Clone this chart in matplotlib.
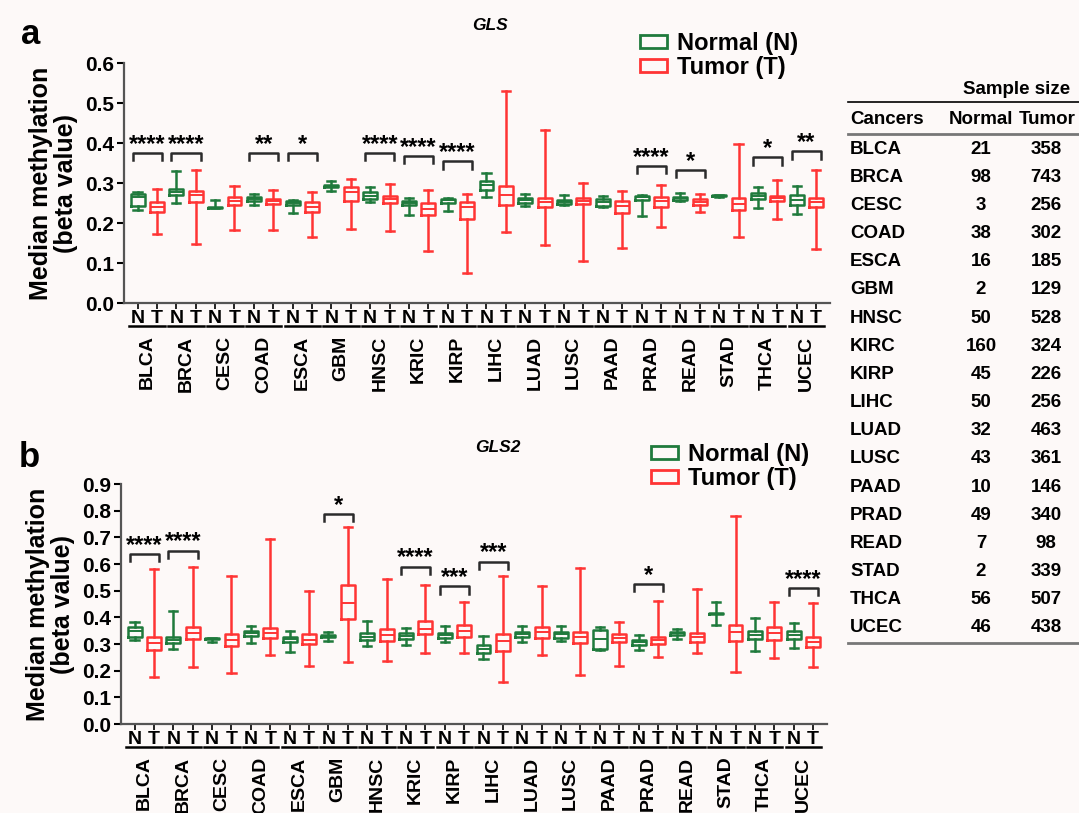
import matplotlib
matplotlib.use("Agg")
import matplotlib.pyplot as plt
import matplotlib.transforms as mtransforms
from matplotlib.patches import Patch

plt.rcParams['font.family'] = ['Liberation Sans', 'DejaVu Sans']
plt.rcParams['font.weight'] = 'bold'

# ----------------------------
# DATA
# ----------------------------
cancers = ["BLCA", "BRCA", "CESC", "COAD", "ESCA", "GBM", "HNSC", "KRIC", "KIRP",
           "LIHC", "LUAD", "LUSC", "PAAD", "PRAD", "READ", "STAD", "THCA", "UCEC"]
table_cancers = ["BLCA", "BRCA", "CESC", "COAD", "ESCA", "GBM", "HNSC", "KIRC", "KIRP",
                 "LIHC", "LUAD", "LUSC", "PAAD", "PRAD", "READ", "STAD", "THCA", "UCEC"]
n_normal = [21, 98, 3, 38, 16, 2, 50, 160, 45, 50, 32, 43, 10, 49, 7, 2, 56, 46]
n_tumor = [358, 743, 256, 302, 185, 129, 528, 324, 226, 256, 463, 361, 146, 340, 98, 339, 507, 438]

# GLS (panel a) normal
gls_n_lo = [.233, .25, .2375, .245, .224, .281, .2525, .221, .231, .265, .242, .244, .239, .217, .256, .266, .238, .223]
gls_n_q1 = [.243, .271, .2375, .255, .244, .29, .259, .244, .25, .283, .25, .2475, .243, .2575, .258, .267, .26, .244]
gls_n_med = [.264, .2775, .2385, .261, .251, .293, .267, .25, .257, .294, .257, .253, .2525, .264, .2625, .268, .2675, .257]
gls_n_q3 = [.272, .285, .24, .266, .255, .296, .277, .255, .26, .304, .2625, .258, .26, .267, .266, .269, .275, .269]
gls_n_hi = [.2775, .329, .258, .273, .258, .304, .291, .263, .2625, .324, .272, .27, .267, .271, .274, .27, .289, .292]
# GLS tumor
gls_t_lo = [.1725, .1475, .182, .183, .165, .185, .181, .129, .075, .177, .144, .104, .137, .191, .228, .164, .21, .136]
gls_t_q1 = [.2275, .253, .245, .247, .2267, .254, .251, .22, .21, .244, .239, .247, .225, .24, .244, .232, .255, .241]
gls_t_med = [.24, .269, .255, .255, .24, .2775, .26, .236, .24, .269, .2525, .256, .242, .255, .2525, .2475, .2625, .2525]
gls_t_q3 = [.2525, .28, .265, .261, .2525, .289, .268, .25, .2525, .292, .262, .262, .254, .264, .26, .262, .268, .262]
gls_t_hi = [.286, .3325, .2917, .283, .278, .31, .2975, .283, .2725, .529, .433, .299, .281, .294, .273, .398, .307, .333]

# GLS2 (panel b) normal
gls2_n_lo = [.315, .281, .306, .305, .27, .311, .291, .295, .307, .243, .307, .31, .278, .278, .318, .372, .273, .286]
gls2_n_q1 = [.326, .303, .318, .33, .306, .327, .316, .318, .323, .266, .326, .323, .28, .297, .335, .413, .318, .32]
gls2_n_med = [.347, .316, .319, .341, .318, .33, .328, .331, .333, .281, .336, .337, .318, .307, .342, .414, .335, .335]
gls2_n_q3 = [.363, .325, .321, .35, .328, .332, .343, .341, .342, .297, .345, .346, .352, .316, .346, .415, .348, .348]
gls2_n_hi = [.382, .424, .321, .367, .348, .346, .387, .361, .368, .331, .366, .368, .365, .332, .355, .456, .396, .377]
# GLS2 tumor
gls2_t_lo = [.175, .215, .192, .257, .217, .232, .235, .268, .265, .156, .258, .184, .216, .251, .267, .194, .246, .213]
gls2_t_q1 = [.278, .317, .291, .321, .301, .393, .31, .337, .326, .275, .322, .302, .308, .301, .308, .313, .315, .288]
gls2_t_med = [.305, .341, .316, .341, .316, .453, .332, .357, .35, .311, .345, .325, .323, .315, .325, .345, .341, .308]
gls2_t_q3 = [.328, .365, .336, .361, .336, .521, .357, .388, .372, .337, .365, .345, .337, .326, .342, .372, .362, .328]
gls2_t_hi = [.58, .587, .554, .692, .5, .74, .543, .523, .456, .554, .516, .586, .383, .462, .506, .78, .456, .452]

# significance brackets: cancer index, label, bracket height
sig_a_idx = [0, 1, 3, 4, 6, 7, 8, 13, 14, 16, 17]
sig_a_lab = ["****", "****", "**", "*", "****", "****", "****", "****", "*", "*", "**"]
sig_a_y = [.375, .375, .375, .375, .375, .367, .354, .342, .333, .364, .379]

sig_b_idx = [0, 1, 5, 7, 8, 9, 13, 17]
sig_b_lab = ["****", "****", "*", "****", "***", "***", "*", "****"]
sig_b_y = [.637, .65, .788, .59, .516, .609, .524, .509]

GREEN = "#1f7a3c"
RED = "#ff3434"
BG = "#fdf9f8"


def make_stats(lo, q1, med, q3, hi):
    return [{"whislo": a, "q1": b, "med": c, "q3": d, "whishi": e, "fliers": []}
            for a, b, c, d, e in zip(lo, q1, med, q3, hi)]


def draw_panel(ax, normal, tumor, ymax, yticks, sig_idx, sig_lab, sig_y, drop, title, letter_xy, title_xy, leg_xy):
    posn = [2 * i for i in range(len(cancers))]
    post = [2 * i + 1 for i in range(len(cancers))]
    for stats, pos, col in ((normal, posn, GREEN), (tumor, post, RED)):
        ax.bxp(stats, positions=pos, widths=0.72, showfliers=False, capwidths=0.42,
               boxprops=dict(color=col, lw=1.8),
               medianprops=dict(color=col, lw=1.4),
               whiskerprops=dict(color=col, lw=1.8),
               capprops=dict(color=col, lw=1.8))

    ax.set_xlim(-0.7, 2 * len(cancers) - 1 + 0.72)
    ax.set_ylim(0, ymax)
    ax.set_yticks(yticks)
    ax.set_yticklabels([f"{v:.1f}" for v in yticks], fontsize=15, fontweight='bold')
    ax.set_xticks(sorted(posn + post))
    ax.set_xticklabels(["N", "T"] * len(cancers), fontsize=14, fontweight='bold')
    ax.tick_params(axis='x', length=4, width=1.2, pad=1)
    ax.tick_params(axis='y', length=5, width=1.5, pad=2)
    for s in ("top", "right"):
        ax.spines[s].set_visible(False)
    ax.spines["left"].set_linewidth(1.6)
    ax.spines["left"].set_color("#555555")
    ax.spines["bottom"].set_linewidth(1.6)
    ax.spines["bottom"].set_color("#555555")
    ax.set_facecolor(BG)
    ax.set_ylabel("Median methylation\n(beta value)", fontsize=18, fontweight='bold',
                  labelpad=5, linespacing=1.05)

    # underline + cancer names under each N/T pair
    trans = mtransforms.blended_transform_factory(ax.transData, ax.transAxes)
    for i, name in enumerate(cancers):
        ax.plot([2 * i - 0.42, 2 * i + 1.42], [-0.095, -0.095], color="black", lw=1.8,
                transform=trans, clip_on=False)
        ax.text(2 * i + 0.5, -0.135, name, rotation=90, ha='center', va='top',
                fontsize=14, fontweight='bold', transform=trans)

    # significance brackets
    for i, lab, y in zip(sig_idx, sig_lab, sig_y):
        x1, x2 = 2 * i - 0.25, 2 * i + 1.25
        ax.plot([x1, x1, x2, x2], [y - drop, y, y, y - drop], color="#2b2b2b", lw=1.8,
                clip_on=False)
        ax.annotate(lab, (2 * i + 0.5, y), xytext=(0, -2), textcoords='offset points',
                    ha='center', va='bottom', fontsize=17, fontweight='bold')

    fig = ax.figure
    fig.text(letter_xy[0], letter_xy[1], title[0], fontsize=25, fontweight='bold', va='center')
    fig.text(title_xy[0], title_xy[1], title[1], fontsize=12.5, fontweight='bold',
             style='italic', ha='center', va='center')
    handles = [Patch(facecolor='none', edgecolor=GREEN, lw=2, label="Normal (N)"),
               Patch(facecolor='none', edgecolor=RED, lw=2, label="Tumor (T)")]
    fig.legend(handles=handles, loc='upper left', bbox_to_anchor=leg_xy, frameon=False,
               prop=dict(size=17, weight='bold'), handlelength=1.15, handleheight=0.45,
               handletextpad=0.4, labelspacing=0.05, borderpad=0, borderaxespad=0)


W, H = 1079, 813
fig = plt.figure(figsize=(W / 100, H / 100), dpi=100, facecolor=BG)

ax_a = fig.add_axes([124 / W, 1 - 303 / H, 706 / W, 240 / H])
draw_panel(ax_a, make_stats(gls_n_lo, gls_n_q1, gls_n_med, gls_n_q3, gls_n_hi),
           make_stats(gls_t_lo, gls_t_q1, gls_t_med, gls_t_q3, gls_t_hi),
           0.6, [0.0, 0.1, 0.2, 0.3, 0.4, 0.5, 0.6],
           sig_a_idx, sig_a_lab, sig_a_y, 0.018, ("a", "GLS"),
           (21 / W, 1 - 35 / H), (490 / W, 1 - 25 / H), (640 / W, 1 - 32 / H))

ax_b = fig.add_axes([121 / W, 1 - 724 / H, 706 / W, 240 / H])
draw_panel(ax_b, make_stats(gls2_n_lo, gls2_n_q1, gls2_n_med, gls2_n_q3, gls2_n_hi),
           make_stats(gls2_t_lo, gls2_t_q1, gls2_t_med, gls2_t_q3, gls2_t_hi),
           0.9, [0.0, 0.1, 0.2, 0.3, 0.4, 0.5, 0.6, 0.7, 0.8, 0.9],
           sig_b_idx, sig_b_lab, sig_b_y, 0.027, ("b", "GLS2"),
           (19 / W, 1 - 457 / H), (498 / W, 1 - 447 / H), (651 / W, 1 - 443 / H))

# ----------------------------
# sample size table
# ----------------------------
tx0, tx1 = 848 / W, 1079 / W
col_c, col_n, col_t = 850 / W, 981 / W, 1046 / W
TFS = 13.5


def fy(py):
    return 1 - py / H


fig.text(1017 / W, fy(89), "Sample size", ha='center', va='center', fontsize=TFS, fontweight='bold')
fig.add_artist(plt.Line2D([tx0, tx1], [fy(102), fy(102)], color="black", lw=1.2))
fig.text(col_c, fy(119), "Cancers", ha='left', va='center', fontsize=TFS, fontweight='bold')
fig.text(col_n, fy(119), "Normal", ha='center', va='center', fontsize=TFS, fontweight='bold')
fig.text(1076 / W, fy(119), "Tumor", ha='right', va='center', fontsize=TFS, fontweight='bold')
fig.add_artist(plt.Line2D([tx0, tx1], [fy(134), fy(134)], color="#777777", lw=2))
row_h = (628 - 149) / 17
for i, (c, nn, nt) in enumerate(zip(table_cancers, n_normal, n_tumor)):
    y = fy(149 + i * row_h)
    fig.text(col_c, y, c, ha='left', va='center', fontsize=TFS, fontweight='bold')
    fig.text(col_n, y, str(nn), ha='center', va='center', fontsize=TFS, fontweight='bold')
    fig.text(col_t, y, str(nt), ha='center', va='center', fontsize=TFS, fontweight='bold')
fig.add_artist(plt.Line2D([tx0, tx1], [fy(643), fy(643)], color="#777777", lw=2))

fig.savefig("out.png", dpi=100, facecolor=BG)
